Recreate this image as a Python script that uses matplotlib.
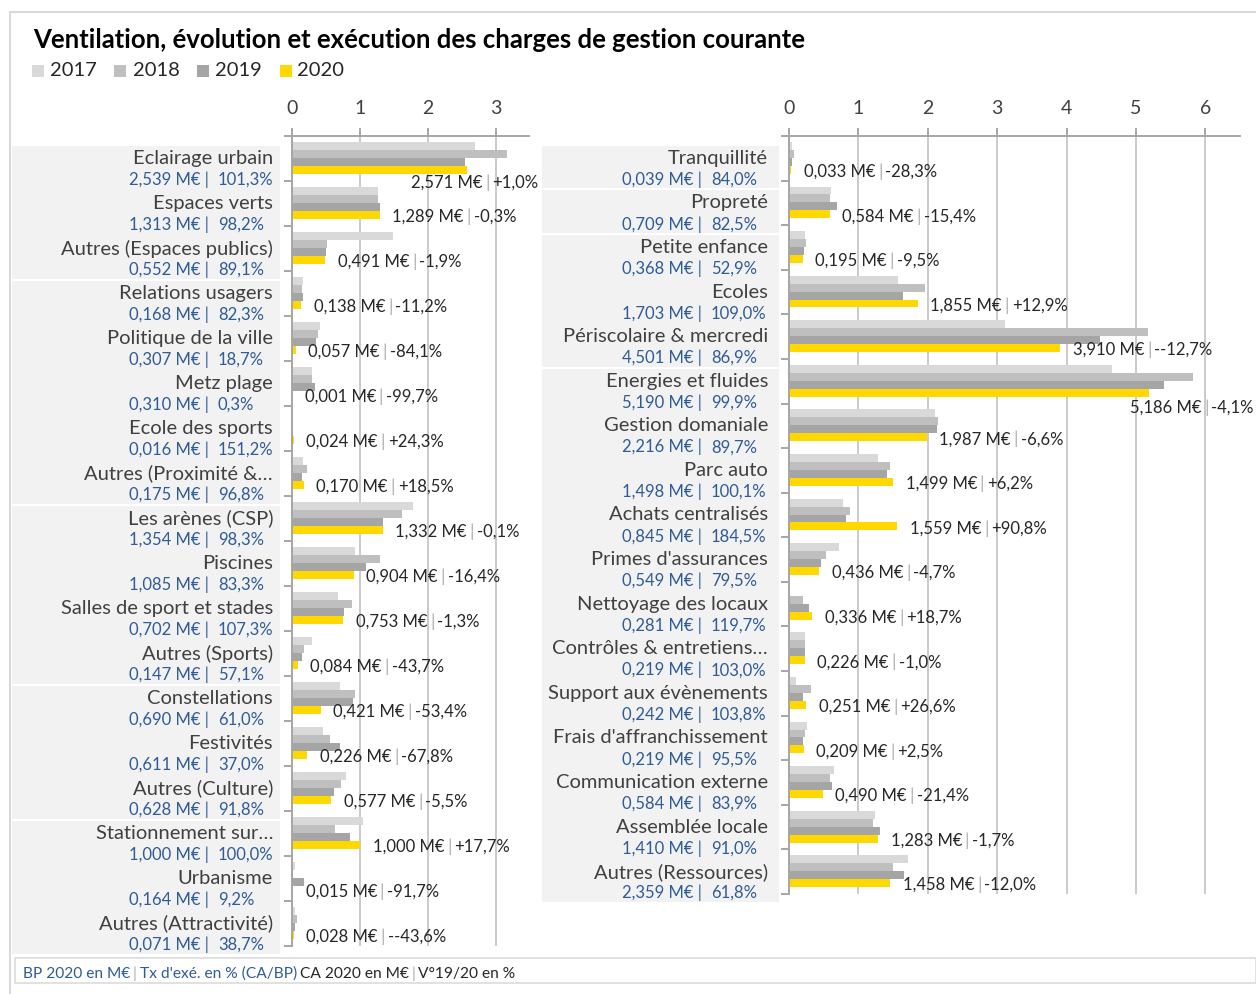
import matplotlib
matplotlib.use('Agg')
import matplotlib.pyplot as plt
import matplotlib.transforms as mtrans
from matplotlib.patches import Rectangle
from matplotlib.offsetbox import TextArea, HPacker, AnnotationBbox

plt.rcParams['font.family'] = ['Lato', 'DejaVu Sans']

W, H = 1256, 994

years = ['2017', '2018', '2019', '2020']
colors = ['#d9d9d9', '#bfbfbf', '#a5a5a5', '#ffd800']

# panneau gauche
left_names = ['Eclairage urbain', 'Espaces verts', 'Autres (Espaces publics)', 'Relations usagers',
              'Politique de la ville', 'Metz plage', 'Ecole des sports', 'Autres (Proximité &…',
              'Les arènes (CSP)', 'Piscines', 'Salles de sport et stades', 'Autres (Sports)',
              'Constellations', 'Festivités', 'Autres (Culture)', 'Stationnement sur…',
              'Urbanisme', 'Autres (Attractivité)']
left_bp = [2.539, 1.313, 0.552, 0.168, 0.307, 0.310, 0.016, 0.175, 1.354, 1.085, 0.702, 0.147,
           0.690, 0.611, 0.628, 1.000, 0.164, 0.071]
left_tx = [101.3, 98.2, 89.1, 82.3, 18.7, 0.3, 151.2, 96.8, 98.3, 83.3, 107.3, 57.1,
           61.0, 37.0, 91.8, 100.0, 9.2, 38.7]
left_2017 = [2.69, 1.26, 1.49, 0.16, 0.41, 0.30, 0.01, 0.16, 1.78, 0.92, 0.67, 0.29,
             0.70, 0.455, 0.80, 1.04, 0.05, 0.05]
left_2018 = [3.16, 1.26, 0.51, 0.145, 0.375, 0.30, 0.015, 0.22, 1.61, 1.295, 0.875, 0.18,
             0.92, 0.565, 0.72, 0.63, 0.0, 0.08]
left_2019 = [2.546, 1.293, 0.500, 0.155, 0.358, 0.333, 0.019, 0.143, 1.333, 1.081, 0.763, 0.149,
             0.903, 0.702, 0.611, 0.850, 0.181, 0.050]
left_2020 = [2.571, 1.289, 0.491, 0.138, 0.057, 0.001, 0.024, 0.170, 1.332, 0.904, 0.753, 0.084,
             0.421, 0.226, 0.577, 1.000, 0.015, 0.028]
left_var = ['+1,0%', '-0,3%', '-1,9%', '-11,2%', '-84,1%', '-99,7%', '+24,3%', '+18,5%',
            '-0,1%', '-16,4%', '-1,3%', '-43,7%', '-53,4%', '-67,8%', '-5,5%', '+17,7%',
            '-91,7%', '--43,6%']
left_groups = [3, 5, 4, 3, 3]

# panneau droit
right_names = ['Tranquillité', 'Propreté', 'Petite enfance', 'Ecoles', 'Périscolaire & mercredi',
               'Energies et fluides', 'Gestion domaniale', 'Parc auto', 'Achats centralisés',
               "Primes d'assurances", 'Nettoyage des locaux', 'Contrôles & entretiens…',
               'Support aux évènements', "Frais d'affranchissement", 'Communication externe',
               'Assemblée locale', 'Autres (Ressources)']
right_bp = [0.039, 0.709, 0.368, 1.703, 4.501, 5.190, 2.216, 1.498, 0.845, 0.549, 0.281, 0.219,
            0.242, 0.219, 0.584, 1.410, 2.359]
right_tx = [84.0, 82.5, 52.9, 109.0, 86.9, 99.9, 89.7, 100.1, 184.5, 79.5, 119.7, 103.0,
            103.8, 95.5, 83.9, 91.0, 61.8]
right_2017 = [0.05, 0.60, 0.226, 1.57, 3.12, 4.66, 2.10, 1.28, 0.78, 0.724, 0.0, 0.226,
              0.10, 0.26, 0.645, 1.236, 1.72]
right_2018 = [0.066, 0.585, 0.24, 1.96, 5.18, 5.82, 2.146, 1.45, 0.877, 0.54, 0.20, 0.226,
              0.32, 0.226, 0.59, 1.21, 1.495]
right_2019 = [0.046, 0.690, 0.215, 1.643, 4.479, 5.408, 2.127, 1.411, 0.817, 0.457, 0.283, 0.228,
              0.198, 0.204, 0.623, 1.305, 1.657]
right_2020 = [0.033, 0.584, 0.195, 1.855, 3.910, 5.186, 1.987, 1.499, 1.559, 0.436, 0.336, 0.226,
              0.251, 0.209, 0.490, 1.283, 1.458]
right_var = ['-28,3%', '-15,4%', '-9,5%', '+12,9%', '--12,7%', '-4,1%', '-6,6%', '+6,2%',
             '+90,8%', '-4,7%', '+18,7%', '-1,0%', '+26,6%', '+2,5%', '-21,4%', '-1,7%', '-12,0%']
right_groups = [1, 1, 3, 12]

title = 'Ventilation, évolution et exécution des charges de gestion courante'

BLUE = '#2f5b96'
GREY_TXT = '#404040'
AXIS_COL = '#a6a6a6'


def fr(v, nd):
    return f'{v:.{nd}f}'.replace('.', ',')


def px(x, y):
    return x / W, 1 - y / H


fig = plt.figure(figsize=(W / 100, H / 100), dpi=100)

# cadre extérieur
fig.patches.append(Rectangle(px(10, 1000), (W - 8) / W, (1000 - 12) / H, transform=fig.transFigure,
                             fill=False, edgecolor='#d9d9d9', lw=1.5))

fig.text(*px(33, 40), title, fontsize=18.5, fontweight='bold', va='center', ha='left', color='black')

# légende
for k, (yr, col) in enumerate(zip(years, colors)):
    x0 = 32 + k * 82.5
    fig.patches.append(Rectangle(px(x0, 77), 12 / W, 12 / H, transform=fig.transFigure,
                                 facecolor=col, edgecolor='none'))
    fig.text(*px(x0 + 18, 71), yr, fontsize=14.5, va='center', ha='left', color='#262626')


def value_label(ax, x, y, val, var, align='left', dx=9):
    tp = dict(color='#262626', size=12)
    parts = [TextArea(f'{fr(val, 3)} M€', textprops=tp),
             TextArea('|', textprops=dict(color='#b0b0b0', size=12.5)),
             TextArea(var, textprops=tp)]
    box = HPacker(children=parts, align='center', pad=0, sep=2)
    ab = AnnotationBbox(box, (x, y), xybox=(dx if align == 'left' else 0, 0), xycoords='data',
                        boxcoords='offset points', box_alignment=(0 if align == 'left' else 1, 0.5),
                        frameon=False, pad=0, annotation_clip=False)
    ax.add_artist(ab)


def draw_panel(rect, names, bp, tx, series, var, groups, xmax, nticks, band_x, sep_x, overrides):
    ax = fig.add_axes(rect)
    n = len(names)
    rows = list(range(n))
    for j, (vals, col) in enumerate(zip(series, colors)):
        ax.barh([r + 0.222 + 0.178 * j for r in rows], vals, height=0.178, color=col, zorder=2)
    ax.set_xlim(0, xmax)
    ax.set_ylim(n, 0)
    ax.set_xticks(range(nticks))
    ax.set_yticks(range(n + 1))
    ax.set_yticklabels([])
    ax.xaxis.tick_top()
    ax.grid(axis='x', color='#c6c6c6', lw=1.3, zorder=0)
    ax.set_axisbelow(True)
    for s in ['right', 'bottom']:
        ax.spines[s].set_visible(False)
    for s in ['top', 'left']:
        ax.spines[s].set_color(AXIS_COL)
        ax.spines[s].set_linewidth(1.4)
    ax.tick_params(axis='x', direction='out', length=6, width=1.4, color=AXIS_COL,
                   labelsize=14, labelcolor=GREY_TXT, pad=8)
    ax.tick_params(axis='y', direction='out', length=6, width=1.4, color=AXIS_COL)

    # bandes grises des groupes
    bt = mtrans.blended_transform_factory(fig.transFigure, ax.transData)
    start = 0
    for g in groups:
        y0 = start + 0.22
        y1 = start + g + 0.17
        ax.add_patch(Rectangle((band_x[0] / W, y0), (band_x[1] - band_x[0]) / W, y1 - y0,
                               transform=bt, facecolor='#f2f2f2', edgecolor='none',
                               clip_on=False, zorder=0))
        start += g

    # libellés de catégories
    for i, name in enumerate(names):
        ax.text(band_x[2] / W, i + 0.5, name, transform=bt, ha='right', va='center',
                fontsize=14.5, color=GREY_TXT, clip_on=False)
        ax.text(sep_x / W, i + 0.98, f'{fr(bp[i], 3)} M€ |', transform=bt, ha='right',
                va='center', fontsize=12, color=BLUE, clip_on=False)
        ax.text((sep_x + 9) / W, i + 0.98, f'{fr(tx[i], 1)}%', transform=bt, ha='left',
                va='center', fontsize=12, color=BLUE, clip_on=False)

    # étiquettes 2020
    for i in rows:
        if i in overrides:
            xo, yo = overrides[i]
            value_label(ax, xo, yo, series[3][i], var[i], align='right')
        else:
            value_label(ax, series[3][i], i + 0.8, series[3][i], var[i])
    return ax


draw_panel([292 / W, 1 - 946 / H, 237 / W, 810 / H], left_names, left_bp, left_tx,
           [left_2017, left_2018, left_2019, left_2020], left_var, left_groups,
           3.48, 4, (12, 280, 273), 209, {0: (3.62, 1.03)})

draw_panel([789 / W, 1 - 894 / H, 451 / W, 758 / H], right_names, right_bp, right_tx,
           [right_2017, right_2018, right_2019, right_2020], right_var, right_groups,
           6.5, 7, (542, 779, 768), 702, {5: (6.7, 6.1)})

# pied : légende des libellés
fig.patches.append(Rectangle(px(15, 983), (W - 15) / W, 25 / H, transform=fig.transFigure,
                             fill=False, edgecolor='#dcdcdc', lw=1.2))
fp = dict(size=11.2)
foot = HPacker(children=[TextArea('BP 2020 en M€', textprops=dict(color=BLUE, **fp)),
                         TextArea('|', textprops=dict(color='#b0b0b0', **fp)),
                         TextArea("Tx d'exé. en % (CA/BP)", textprops=dict(color=BLUE, **fp)),
                         TextArea('CA 2020 en M€', textprops=dict(color='#262626', **fp)),
                         TextArea('|', textprops=dict(color='#b0b0b0', **fp)),
                         TextArea('V°19/20 en %', textprops=dict(color='#262626', **fp))],
               align='center', pad=0, sep=2)
fig.add_artist(AnnotationBbox(foot, px(23, 974), xycoords='figure fraction', box_alignment=(0, 0.5),
                              frameon=False, pad=0))

fig.savefig('out.png', dpi=100)
